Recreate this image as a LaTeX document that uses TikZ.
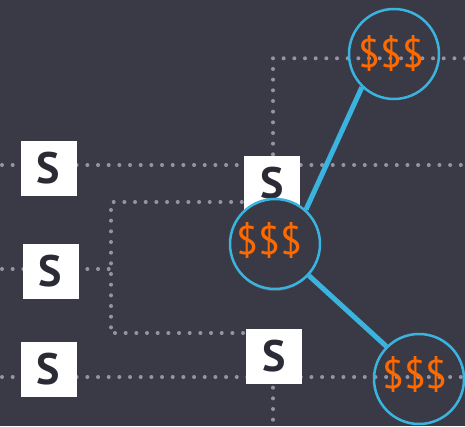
\documentclass[tikz,border=0pt]{standalone}
\usepackage{fontspec}
\setmainfont{PT Sans}
\usetikzlibrary{shadows}
\definecolor{bgc}{HTML}{3A3A47}
\definecolor{dotc}{HTML}{9494A6}
\definecolor{bluec}{HTML}{3AB4DE}
\definecolor{orangec}{HTML}{FF6A00}
\definecolor{sdark}{HTML}{2B2B36}
\tikzset{
  dotnode/.style={circle, fill=dotc, draw=none, minimum size=4pt, inner sep=0pt, outer sep=0pt},
  sbox/.style={fill=white, draw=none, minimum width=56pt, minimum height=55pt, inner sep=0pt,
     font=\fontsize{44}{44}\selectfont\bfseries, text=sdark},
  coin/.style={circle, draw=bluec, line width=2.5pt, minimum size=90pt, inner sep=0pt},
  money/.style={font=\fontsize{40}{40}\selectfont, text=orangec, inner sep=0pt},
  link/.style={bluec, line width=5pt}
}
\begin{document}
\begin{tikzpicture}[x=1pt,y=-1pt]
\fill[bgc] (0,0) rectangle (465,426);
\useasboundingbox (0,0) rectangle (465,426);
% dotted guide lines (drawn as dots)
\foreach \i in {0,...,43} {\node[dotnode] (ha\i) at (2+\i*10.67,165) {};}
\foreach \i in {1,...,10} {\node[dotnode] (vb\i) at (273,165-\i*10.67) {};}
\foreach \i in {1,...,18} {\node[dotnode] (hb\i) at (273+\i*10.67,58.3) {};}
\foreach \i in {0,...,12} {\node[dotnode] (hr\i) at (113.7+\i*10.67,202) {};}
\foreach \i in {0,...,11} {\node[dotnode] (vr\i) at (111,210+\i*10.67) {};}
\foreach \i in {0,...,12} {\node[dotnode] (hs\i) at (115+\i*10.67,333) {};}
\foreach \i in {0,...,10} {\node[dotnode] (hm\i) at (2+\i*10.67,269) {};}
\foreach \i in {0,...,43} {\node[dotnode] (hd\i) at (2+\i*10.67,377) {};}
\foreach \i in {1,...,4} {\node[dotnode] (ve\i) at (273,377+\i*10.67) {};}
% S boxes
\node[sbox] (s1) at (48.5,168) {S};
\node[sbox] (s2) at (50.5,271) {S};
\node[sbox] (s3) at (48.5,369) {S};
\node[sbox] (s4) at (272,183) {S};
\node[sbox] (s5) at (274,356) {S};
% circles
\node[coin, fill=bgc, drop shadow={opacity=0.35, shadow xshift=0pt, shadow yshift=-2pt}] (c2) at (275,244) {};
\node[coin] (c1) at (394,54) {};
\node[coin] (c3) at (419,379) {};
\node[money] (t1) at (391.5,53) {\$\$\$};
\node[money] (t2) at (269.5,240) {\$\$\$};
\node[money] (t3) at (415,374.5) {\$\$\$};
% links
\draw[link] (c2.48) -- (c1.226);
\draw[link] (c2.-43) -- (c3.135);
\end{tikzpicture}
\end{document}
